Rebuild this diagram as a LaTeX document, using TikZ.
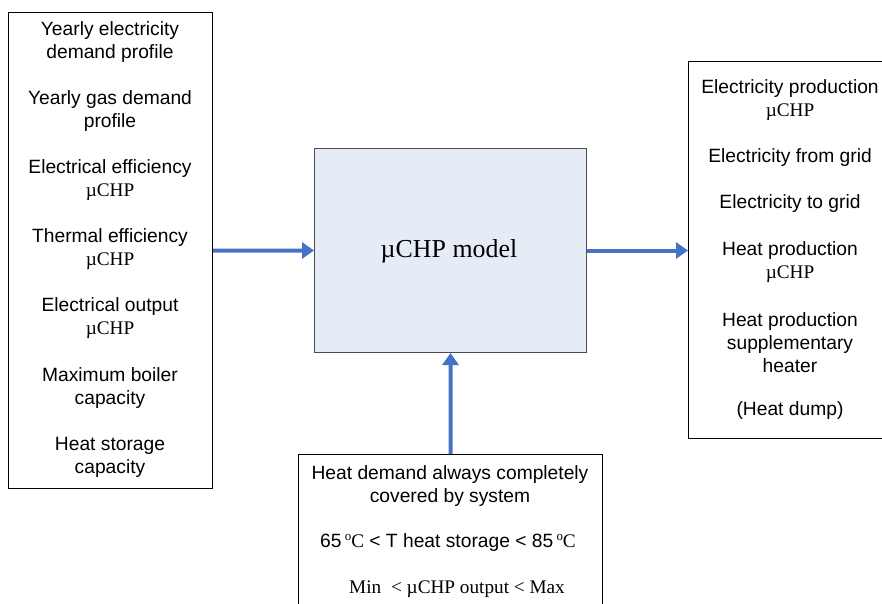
\documentclass[tikz,border=0pt]{standalone}
\usepackage{fontspec}
\setmainfont{Liberation Sans}
\newfontfamily\tmr{Liberation Serif}
\usetikzlibrary{arrows.meta}
\definecolor{arrblue}{HTML}{4472C4}
\definecolor{modfill}{HTML}{E6ECF6}
\tikzset{
  box/.style={draw=black, line width=1bp, anchor=north west, inner sep=0pt},
  txt/.style={align=center, font=\fontsize{19.3}{23}\selectfont, inner sep=0pt},
  flow/.style={draw=arrblue, line width=4bp, -{Triangle[length=12bp,width=16bp]}},
}
\newcommand{\degC}{{\tmr\,\raisebox{0.8ex}{\fontsize{13}{13}\selectfont o}C}}
\begin{document}
\begin{tikzpicture}[x=1bp,y=-1bp]
\useasboundingbox (0,0) rectangle (882,604);
\clip (0,0) rectangle (882,604);
% boxes
\node[box, minimum width=204bp, minimum height=476bp] (inbox) at (8,12) {};
\node[box, fill=modfill, draw=black!70, minimum width=272bp, minimum height=204bp] (model) at (314,148) {};
\node[box, minimum width=206bp, minimum height=377bp] (outbox) at (688,61) {};
\node[box, minimum width=304bp, minimum height=170bp] (cons) at (298,454) {};
% model text
\node[font=\tmr\fontsize{26}{30}\selectfont] (mtxt) at (449,251) {µCHP model};
% left texts
\node[txt] (i1) at (110,42) {Yearly electricity\\demand profile};
\node[txt] (i2) at (110,111) {Yearly gas demand\\profile};
\node[txt] (i3) at (110,180) {Electrical efficiency\\{\tmr µCHP}};
\node[txt] (i4) at (110,249) {Thermal efficiency\\{\tmr µCHP}};
\node[txt] (i5) at (110,318) {Electrical output\\{\tmr µCHP}};
\node[txt] (i6) at (110,388) {Maximum boiler\\capacity};
\node[txt] (i7) at (110,457) {Heat storage\\capacity};
% right texts
\node[txt] (o1) at (790,100) {Electricity production\\{\tmr µCHP}};
\node[txt] (o2) at (790,158) {Electricity from grid};
\node[txt] (o3) at (790,204) {Electricity to grid};
\node[txt] (o4) at (790,262) {Heat production\\{\tmr µCHP}};
\node[txt] (o5) at (790,343) {Heat production\\supplementary\\heater};
\node[txt] (o6) at (790,411) {(Heat dump)};
% bottom texts
\node[txt] (c1) at (450,486) {Heat demand always completely\\covered by system};
\node[txt] (c2) at (448,543) {65\degC{} < T heat storage < 85\degC};
\node[txt, font=\tmr\fontsize{19.3}{23}\selectfont] (c3) at (457,589) {Min\hspace{5bp} < µCHP output < Max};
% arrows
\draw[flow] (inbox.east) -- (model.west);
\draw[flow] (model.east) -- (outbox.west |- model.east);
\draw[flow] (cons.north) -- (model.south);
\end{tikzpicture}
\end{document}
